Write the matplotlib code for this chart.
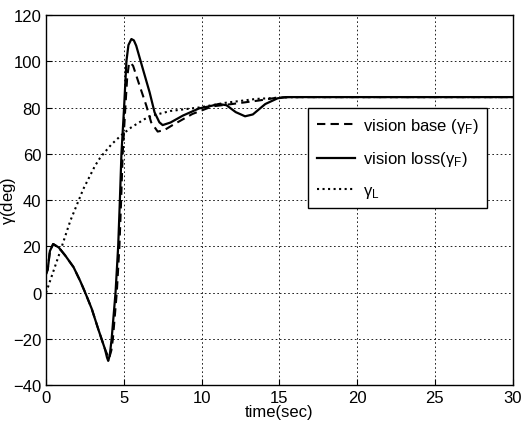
import numpy as np
import matplotlib
matplotlib.use('Agg')
from matplotlib import pyplot as plt

plt.rcParams['font.family'] = ['Liberation Sans', 'DejaVu Sans']
plt.rcParams['mathtext.fontset'] = 'custom'
plt.rcParams['mathtext.rm'] = 'Liberation Sans'

#%% data
t_loss = [0, 0.11, 0.25, 0.46, 0.82, 1.24, 1.77, 2.2, 2.52, 2.94, 3.36, 3.79, 3.92, 4.0,
          4.1, 4.22, 4.47, 4.64, 4.75, 4.85, 5.02, 5.17, 5.3, 5.49, 5.65, 5.8, 6.23, 6.66,
          6.98, 7.29, 7.5, 8.0, 8.8, 9.84, 10.5, 11.1, 11.6, 12.2, 12.8, 13.3, 14.1,
          14.9, 15.5, 30]
v_loss = [8, 10, 18, 21, 19.5, 16, 11, 5, 0, -7, -15.8, -24.4, -28, -29.5,
          -27, -20, 0, 20, 40, 60, 80, 100, 107, 109.6, 109, 106.7, 96.6, 86.6,
          77.9, 73.6, 72.4, 73.5, 76.5, 79.6, 80.5, 81.5, 81, 78, 76.2, 77, 81.5,
          84, 84.5, 84.5]

t_base = [0, 0.11, 0.25, 0.46, 0.82, 1.24, 1.77, 2.2, 2.52, 2.94, 3.36, 3.79, 4.05,
          4.2, 4.3, 4.55, 4.72, 4.83, 4.93, 5.1, 5.22, 5.34, 5.45, 5.6, 6.02, 6.45, 6.76,
          7.18, 7.6, 8.14, 9.41, 10.7, 11.96, 13.66, 14.9, 15.5, 30]
v_base = [8, 10, 18, 21, 19.5, 16, 11, 5, 0, -7, -15.8, -24.4, -28.5,
          -25, -20, 0, 20, 40, 60, 80, 93, 99.3, 99.2, 98, 89.4, 80.8, 73.6,
          69.6, 70.2, 72.4, 77.2, 80.5, 81.5, 83, 84.3, 84.5, 84.5]

t_lead = [0, 0.08, 0.92, 1.56, 2.4, 3.15, 3.5, 4.2, 4.85, 5.5, 6.34, 6.85, 8.0,
          9.84, 11.5, 13.5, 15.5, 16.5, 30]
v_lead = [0, 1.5, 18, 31, 44.8, 54.8, 58.5, 64, 68.1, 71.5, 75, 76.5, 78.5,
          80, 82, 83.7, 84.4, 84.5, 84.5]

#%% plot
fig = plt.figure(figsize=(5.23, 4.31), dpi=100)
ax = fig.add_axes([0.088, 0.104, 0.892, 0.859])

ax.plot(t_base, v_base, 'k--', lw=1.5, dashes=(4, 2.5), label=r'vision base ($\mathregular{\gamma_F}$)')
ax.plot(t_loss, v_loss, 'k-', lw=1.6, label=r'vision loss($\mathregular{\gamma_F}$)')
ax.plot(t_lead, v_lead, 'k:', lw=1.5, label=r'$\mathregular{\gamma_L}$')

ax.set_xlim(0, 30)
ax.set_ylim(-40, 120)
ax.set_xticks(np.arange(0, 31, 5))
ax.set_yticks(np.arange(-40, 121, 20))
ax.grid(True, color='k', linestyle=(0, (2, 3)), lw=0.6)
ax.tick_params(direction='in', labelsize=12, length=4)
for s in ax.spines.values():
    s.set_linewidth(1.0)

ax.set_xlabel('time(sec)', fontsize=12, labelpad=-1)
ax.set_ylabel(r'$\mathregular{\gamma}$(deg)', fontsize=12, labelpad=-4)

leg = ax.legend(loc='upper left', bbox_to_anchor=(0.562, 0.749), fontsize=12,
                fancybox=False, edgecolor='k', framealpha=1, borderpad=0.5,
                borderaxespad=0, labelspacing=0.85, handlelength=2.3, handletextpad=0.5)
leg.get_frame().set_linewidth(1.0)

plt.savefig('out.png', dpi=100)
